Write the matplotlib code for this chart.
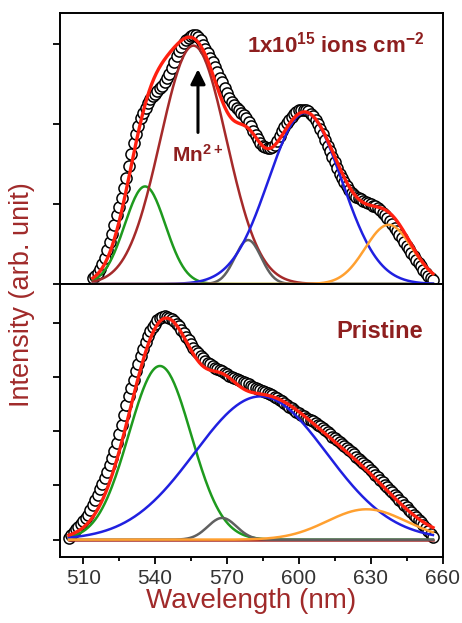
import numpy as np
import matplotlib
matplotlib.use("Agg")
from matplotlib import pyplot as plt

plt.rcParams['font.family'] = ['Liberation Sans', 'DejaVu Sans']
plt.rcParams['mathtext.fontset'] = 'custom'
plt.rcParams['mathtext.rm'] = 'Liberation Sans:bold'
plt.rcParams['mathtext.default'] = 'rm'

# ---- measured PL spectra (open circles), 1 nm steps ----
wl_irr = np.arange(514, 657, 1)
pl_irr = [0.07, 0.10, 0.14, 0.19, 0.25, 0.33, 0.42, 0.52, 0.62, 0.74,
          0.86, 0.96, 1.07, 1.20, 1.33, 1.48, 1.62, 1.76, 1.88, 1.98,
          2.07, 2.14, 2.20, 2.26, 2.31, 2.35, 2.38, 2.41, 2.45, 2.48,
          2.52, 2.57, 2.63, 2.70, 2.78, 2.85, 2.91, 2.96, 3.01, 3.05,
          3.08, 3.10, 3.11, 3.11, 3.09, 3.05, 2.99, 2.94, 2.89, 2.83,
          2.77, 2.71, 2.65, 2.58, 2.52, 2.45, 2.39, 2.33, 2.28, 2.24,
          2.20, 2.17, 2.14, 2.11, 2.08, 2.03, 1.97, 1.91, 1.86, 1.81,
          1.76, 1.73, 1.71, 1.70, 1.70, 1.71, 1.74, 1.79, 1.85, 1.91,
          1.96, 2.01, 2.05, 2.09, 2.12, 2.15, 2.17, 2.18, 2.18, 2.17,
          2.16, 2.13, 2.10, 2.05, 2.00, 1.94, 1.87, 1.80, 1.73, 1.66,
          1.59, 1.52, 1.45, 1.38, 1.32, 1.27, 1.22, 1.18, 1.14, 1.11,
          1.09, 1.07, 1.06, 1.04, 1.03, 1.01, 1.00, 0.98, 0.97, 0.95,
          0.92, 0.89, 0.86, 0.83, 0.79, 0.75, 0.70, 0.66, 0.61, 0.57,
          0.52, 0.48, 0.44, 0.39, 0.35, 0.30, 0.26, 0.22, 0.18, 0.14,
          0.10, 0.07, 0.05]

wl_pri = np.arange(504, 657, 1)
pl_pri = [0.03, 0.09, 0.14, 0.19, 0.24, 0.29, 0.34, 0.40, 0.46, 0.55,
          0.64, 0.73, 0.83, 0.93, 1.03, 1.14, 1.25, 1.37, 1.50, 1.64,
          1.78, 1.95, 2.12, 2.30, 2.48, 2.64, 2.80, 2.95, 3.10, 3.24,
          3.38, 3.51, 3.64, 3.75, 3.84, 3.92, 3.98, 4.04, 4.08, 4.11,
          4.12, 4.11, 4.09, 4.06, 4.02, 3.98, 3.93, 3.87, 3.81, 3.74,
          3.67, 3.60, 3.54, 3.48, 3.43, 3.38, 3.34, 3.30, 3.26, 3.23,
          3.20, 3.17, 3.15, 3.12, 3.10, 3.07, 3.05, 3.02, 3.00, 2.98,
          2.96, 2.94, 2.92, 2.90, 2.88, 2.86, 2.84, 2.82, 2.80, 2.78,
          2.76, 2.74, 2.72, 2.70, 2.68, 2.66, 2.63, 2.61, 2.58, 2.55,
          2.52, 2.49, 2.45, 2.42, 2.39, 2.36, 2.33, 2.30, 2.28, 2.25,
          2.23, 2.20, 2.18, 2.15, 2.12, 2.09, 2.05, 2.02, 1.98, 1.94,
          1.90, 1.87, 1.83, 1.80, 1.76, 1.73, 1.69, 1.65, 1.61, 1.57,
          1.53, 1.49, 1.45, 1.41, 1.37, 1.33, 1.28, 1.24, 1.19, 1.15,
          1.10, 1.06, 1.01, 0.97, 0.92, 0.87, 0.82, 0.78, 0.73, 0.69,
          0.64, 0.60, 0.55, 0.51, 0.46, 0.42, 0.37, 0.32, 0.27, 0.22,
          0.16, 0.11, 0.05]

# ---- Gaussian deconvolution (center nm, height, sigma nm) ----
peak_colors = ['#1E9A1E', '#A52A2A', '#606060', '#2020E0', '#FFA030']
irr_center = [535.8, 556.0, 578.8, 602.6, 637.5]
irr_height = [1.22, 2.98, 0.55, 2.14, 0.74]
irr_sigma = [8.5, 13.8, 5.5, 15.3, 9.8]

pri_center = [542.0, 0.0, 568.0, 584.0, 628.3]
pri_height = [3.20, 0.0, 0.40, 2.64, 0.56]
pri_sigma = [13.0, 1.0, 6.0, 27.5, 16.5]

xticks = [510, 540, 570, 600, 630, 660]
label_color = '#A02A2A'
note_color = '#8E1F1F'


def gauss(x, c, h, s):
    return h * np.exp(-(x - c) ** 2 / (2.0 * s ** 2))


def draw_panel(ax, wl, pl, centers, heights, sigmas):
    x = np.arange(wl[0], wl[-1] + 0.25, 0.5)
    ax.plot(wl, pl, 'o', ms=8, mfc='white', mec='black', mew=1.1, zorder=2)
    total = np.zeros_like(x)
    for c, h, s, col in zip(centers, heights, sigmas, peak_colors):
        y = gauss(x, c, h, s)
        total += y
        ax.plot(x, y, '-', color=col, lw=1.8, zorder=3)
    ax.plot(x, total, '-', color='#FF2010', lw=2.4, zorder=4)
    ax.set_xlim(500.3, 660.2)
    ax.set_xticks(xticks)
    ax.set_xticks(np.arange(525, 660, 30), minor=True)
    ax.tick_params(axis='both', which='major', direction='out', length=5,
                   width=1.3, labelsize=15, labelcolor='#333333')
    ax.tick_params(axis='x', which='minor', direction='out', length=3, width=1.3)
    for sp in ax.spines.values():
        sp.set_linewidth(1.4)


fig = plt.figure(figsize=(4.62, 6.23), dpi=100)
ax1 = fig.add_axes([0.1299, 0.5441, 0.829, 0.435])
ax2 = fig.add_axes([0.1299, 0.1059, 0.829, 0.4382])

draw_panel(ax1, wl_irr, pl_irr, irr_center, irr_height, irr_sigma)
ax1.set_ylim(0, 3.3875)
ax1.set_yticks([0, 1, 2, 3])
ax1.set_yticklabels([])
ax1.set_xticklabels([])
ax1.text(615.4, 2.99, r'1x10$^{15}$ ions cm$^{-2}$', color=note_color,
         fontsize=16, fontweight='bold', ha='center', va='center')
ax1.annotate('', xy=(557.9, 2.72), xytext=(557.9, 1.86),
             arrowprops=dict(arrowstyle='-|>', color='black', lw=2.2,
                             mutation_scale=22))
ax1.text(557.7, 1.61, r'Mn$^{2+}$', color=note_color, fontsize=15,
         fontweight='bold', ha='center', va='center')

draw_panel(ax2, wl_pri, pl_pri, pri_center, pri_height, pri_sigma)
ax2.set_ylim(-0.32, 4.71)
ax2.set_yticks([0, 1, 2, 3, 4])
ax2.set_yticklabels([])
ax2.text(633.8, 3.84, 'Pristine', color=note_color, fontsize=17,
         fontweight='bold', ha='center', va='center')
ax2.set_xlabel('Wavelength (nm)', fontsize=20, color=label_color, labelpad=0)

fig.text(0.048, 1 - 295 / 623, 'Intensity (arb. unit)', rotation=90,
         fontsize=19.5, color=label_color, ha='center', va='center')

fig.savefig('out.png', dpi=100)
